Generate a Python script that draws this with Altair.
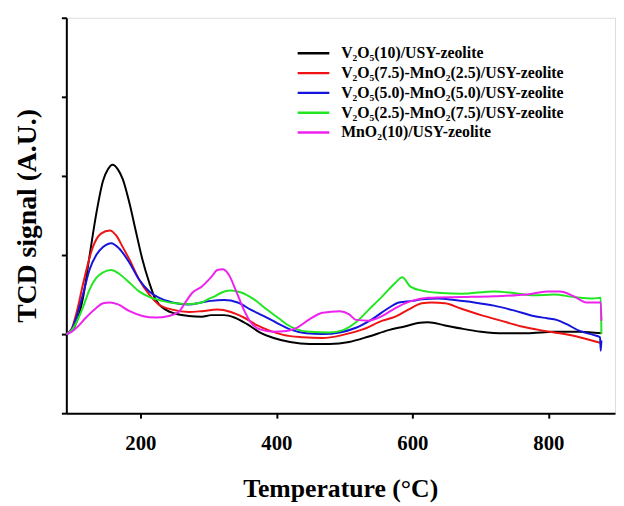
import altair as alt
import pandas as pd

# ---- data ----
series_names = [
    "V₂O₅(10)/USY-zeolite",
    "V₂O₅(7.5)-MnO₂(2.5)/USY-zeolite",
    "V₂O₅(5.0)-MnO₂(5.0)/USY-zeolite",
    "V₂O₅(2.5)-MnO₂(7.5)/USY-zeolite",
    "MnO₂(10)/USY-zeolite",
]
series_colors = ["#000000", "#ee1414", "#1414dd", "#22e622", "#ee22ee"]

x_tick_values = [200, 400, 600, 800]
y_tick_values = [-1, 0, 1, 2, 3, 4]

black_T = [91, 99, 106, 116, 125, 135, 145, 152, 159, 167,
           174, 184, 193, 203, 213, 222, 237, 251, 271, 290,
           304, 323, 338, 357, 376, 396, 420, 449, 478, 507,
           536, 565, 590, 608, 623, 648, 672, 701, 735, 769,
           808, 846, 878]
black_v = [0, 0.04, 0.15, 0.48, 0.98, 1.52, 1.94, 2.08, 2.14, 2.08,
           1.96, 1.65, 1.31, 0.94, 0.65, 0.44, 0.31, 0.26, 0.23, 0.22,
           0.24, 0.24, 0.21, 0.125, 0.02, -0.05, -0.10, -0.125, -0.125, -0.10,
           -0.03, 0.05, 0.10, 0.14, 0.15, 0.11, 0.07, 0.03, 0.01, 0.01,
           0.03, 0.03, 0.01]

red_T = [91, 99, 106, 116, 130, 142, 155, 164, 174, 184,
         198, 213, 227, 247, 271, 290, 313, 333, 352, 372,
         391, 410, 439, 468, 498, 527, 556, 575, 594, 614,
         628, 648, 672, 701, 730, 759, 788, 817, 846, 876]
red_v = [0, 0.07, 0.27, 0.65, 1.10, 1.27, 1.31, 1.25, 1.10, 0.94,
         0.69, 0.50, 0.375, 0.31, 0.28, 0.29, 0.31, 0.28, 0.21, 0.11,
         0.04, -0.01, -0.04, -0.05, -0.01, 0.06, 0.17, 0.22, 0.31, 0.39,
         0.40, 0.39, 0.32, 0.24, 0.17, 0.10, 0.05, 0.01, -0.04, -0.11]

blue_T = [91, 99, 106, 116, 125, 135, 145, 157, 169, 184,
          198, 213, 227, 247, 271, 290, 304, 323, 343, 362,
          381, 401, 420, 444, 468, 493, 517, 541, 565, 580,
          600, 614, 638, 662, 691, 720, 749, 778, 798, 812,
          827, 846, 866, 876, 877, 878]
blue_v = [0, 0.06, 0.22, 0.52, 0.81, 1.0, 1.10, 1.15, 1.08, 0.90,
          0.69, 0.54, 0.46, 0.40, 0.375, 0.40, 0.42, 0.43, 0.40, 0.31,
          0.23, 0.14, 0.06, 0.01, 0.0, 0.02, 0.08, 0.19, 0.33, 0.40,
          0.42, 0.44, 0.45, 0.43, 0.40, 0.36, 0.30, 0.23, 0.20, 0.18,
          0.125, 0.04, -0.01, -0.04, -0.21, -0.08]

green_T = [91, 99, 106, 116, 125, 135, 145, 157, 169, 184,
           198, 213, 232, 251, 271, 290, 299, 310, 318, 333,
           347, 367, 386, 405, 415, 430, 449, 478, 498, 517,
           536, 556, 575, 585, 597, 614, 643, 672, 720, 749,
           778, 808, 837, 866, 877, 878]
green_v = [0, 0.05, 0.15, 0.35, 0.56, 0.71, 0.78, 0.81, 0.76, 0.65,
           0.54, 0.47, 0.42, 0.39, 0.38, 0.40, 0.44, 0.48, 0.52, 0.55,
           0.53, 0.44, 0.31, 0.19, 0.125, 0.06, 0.03, 0.02, 0.05, 0.15,
           0.31, 0.48, 0.65, 0.72, 0.60, 0.55, 0.52, 0.51, 0.54, 0.52,
           0.49, 0.50, 0.47, 0.45, 0.46, 0.0]

magenta_T = [91, 99, 106, 120, 135, 145, 155, 167, 184, 203,
             222, 242, 256, 266, 276, 290, 305, 313, 321, 330,
             340, 352, 362, 376, 396, 415, 430, 449, 468, 493,
             507, 517, 536, 556, 575, 599, 623, 672, 720, 769,
             798, 817, 837, 856, 873, 877, 878]
magenta_v = [0, 0.03, 0.08, 0.21, 0.33, 0.39, 0.40, 0.375, 0.29, 0.23,
             0.21, 0.23, 0.28, 0.40, 0.52, 0.60, 0.73, 0.81, 0.82, 0.75,
             0.56, 0.31, 0.15, 0.06, 0.03, 0.04, 0.08, 0.19, 0.27, 0.29,
             0.25, 0.18, 0.17, 0.23, 0.33, 0.42, 0.46, 0.47, 0.48, 0.50,
             0.54, 0.54, 0.48, 0.40, 0.40, 0.40, 0.17]

all_T = [black_T, red_T, blue_T, green_T, magenta_T]
all_v = [black_v, red_v, blue_v, green_v, magenta_v]

rows = []
for idx, (name, ts, vs) in enumerate(zip(series_names, all_T, all_v)):
    for t, val in zip(ts, vs):
        rows.append({"temp": t, "signal": val, "series": name, "k": idx})
df = pd.DataFrame(rows)

FONT = "Liberation Serif"

chart = alt.Chart(df).mark_line(strokeWidth=2, interpolate="monotone").encode(
    x=alt.X(
        "temp:Q",
        scale=alt.Scale(domain=[91, 898], nice=False, zero=False),
        axis=alt.Axis(
            values=x_tick_values, grid=False, title="Temperature (°C)",
            domainColor="black", domainWidth=2, tickColor="black", tickWidth=2, tickSize=5,
            labelFont=FONT, labelFontSize=21, labelFontWeight="bold", labelColor="black",
            labelPadding=15, labelFlush=False,
            titleFont=FONT, titleFontSize=26, titleFontWeight="bold", titleColor="black",
            titleX=277, titleY=76, titleAlign="center", titleBaseline="middle",
        ),
    ),
    y=alt.Y(
        "signal:Q",
        scale=alt.Scale(domain=[-1, 4], nice=False, zero=False),
        axis=alt.Axis(
            values=y_tick_values, grid=False, labels=False, title="TCD signal (A.U.)",
            domainColor="black", domainWidth=2, tickColor="black", tickWidth=2, tickSize=5,
            titleFont=FONT, titleFontSize=28, titleFontWeight="bold", titleColor="black",
            titleX=-39, titleY=200, titleAngle=270, titleAlign="center", titleBaseline="middle",
        ),
    ),
    color=alt.Color(
        "series:N",
        sort=series_names,
        scale=alt.Scale(domain=series_names, range=series_colors),
        legend=alt.Legend(
            title=None, orient="none", legendX=242, legendY=28,
            symbolType="M-3,0H3", symbolSize=114, symbolStrokeWidth=2.5,
            labelFont=FONT, labelFontSize=16, labelFontWeight="bold", labelColor="black",
            labelOffset=20, rowPadding=4, labelLimit=400, padding=0,
        ),
    ),
    order=alt.Order("temp:Q"),
).properties(
    width=555,
    height=400,
    autosize=alt.AutoSizeParams(type="none"),
    padding={"left": 59, "top": 7, "right": 1, "bottom": 90},
).configure_view(
    stroke="#222222", strokeWidth=1.5
).configure(background="white")

chart.save("out.html", embed_options={"renderer": "svg", "actions": False})
